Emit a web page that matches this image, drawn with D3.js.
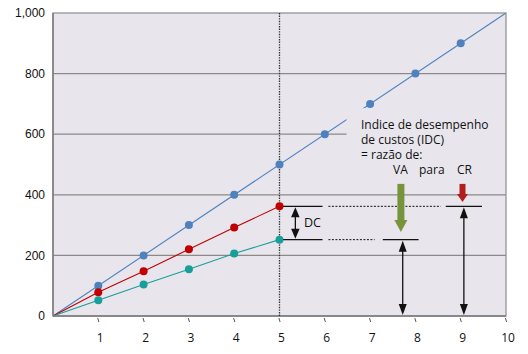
<!DOCTYPE html>
<html>
<head>
<meta charset="utf-8">
<script src="https://cdn.jsdelivr.net/npm/d3@7"></script>
<style>
  body { margin: 0; background: #fff; }
  svg { display: block; }
</style>
</head>
<body>
<div id="chart"></div>
<script>
// data
var xTicks = [1, 2, 3, 4, 5, 6, 7, 8, 9, 10];
var yTicks = [0, 200, 400, 600, 800, 1000];
var periods = [1, 2, 3, 4, 5, 6, 7, 8, 9];
var pvValues = [100, 200, 300, 400, 500, 600, 700, 800, 900];   // blue
var acValues = [78, 148, 220, 292, 362];                          // red
var evValues = [52, 104, 154, 206, 252];                          // teal
var statusDate = 5;
var noteLines = ["Indice de desempenho", "de custos (IDC)", "= razão de:"];

var width = 528, height = 354;
var x = d3.scaleLinear().domain([0, 10]).range([53, 506]);
var y = d3.scaleLinear().domain([0, 1000]).range([316, 13]);

var blue = "#4f81bd", red = "#c00000", teal = "#1a9e9a", bg = "#e8e6ec", grid = "#8a8a8a";

var svg = d3.select("#chart").append("svg")
  .attr("width", width)
  .attr("height", height);

// plot background
svg.append("rect")
  .attr("x", x(0)).attr("y", y(1000))
  .attr("width", x(10) - x(0)).attr("height", y(0) - y(1000))
  .attr("fill", bg);

// grid
svg.selectAll(".grid")
  .data(yTicks.filter(function(d) { return d > 0 && d < 1000; }))
  .enter().append("line")
  .attr("x1", x(0)).attr("x2", x(10))
  .attr("y1", function(d) { return y(d); })
  .attr("y2", function(d) { return y(d); })
  .attr("stroke", grid).attr("stroke-width", 1.2);

// series lines (all start at origin)
function series(vals) {
  return [[0, 0]].concat(vals.map(function(v, i) { return [periods[i], v]; }));
}
var line = d3.line().x(function(d) { return x(d[0]); }).y(function(d) { return y(d[1]); });

svg.append("path").datum([[0, 0], [10, 1000]])
  .attr("d", line).attr("fill", "none").attr("stroke", blue).attr("stroke-width", 1.1);
svg.append("path").datum(series(acValues))
  .attr("d", line).attr("fill", "none").attr("stroke", red).attr("stroke-width", 1.1);
svg.append("path").datum(series(evValues))
  .attr("d", line).attr("fill", "none").attr("stroke", teal).attr("stroke-width", 1.1);

// text box covering grid and blue line
svg.append("rect")
  .attr("x", x(6.48)).attr("y", y(686))
  .attr("width", x(10) - x(6.48)).attr("height", y(430) - y(686))
  .attr("fill", bg);

// frame
svg.append("rect")
  .attr("x", x(0)).attr("y", y(1000))
  .attr("width", x(10) - x(0)).attr("height", y(0) - y(1000))
  .attr("fill", "none").attr("stroke", "#8c8c8c").attr("stroke-width", 1.2);
svg.append("line")
  .attr("x1", x(0)).attr("x2", x(0)).attr("y1", y(1000)).attr("y2", y(0))
  .attr("stroke", "#7a7a7a").attr("stroke-width", 1.4);
svg.append("line")
  .attr("x1", x(0)).attr("x2", x(10)).attr("y1", y(0)).attr("y2", y(0))
  .attr("stroke", "#7a7a7a").attr("stroke-width", 1.4);

// status date dotted line
svg.append("line")
  .attr("x1", x(statusDate)).attr("x2", x(statusDate))
  .attr("y1", y(1000)).attr("y2", y(0))
  .attr("stroke", "#333").attr("stroke-width", 1.3)
  .attr("stroke-dasharray", "1.4,1.2");

// points
function dots(vals, color) {
  svg.append("g").selectAll("circle")
    .data(vals).enter().append("circle")
    .attr("cx", function(d, i) { return x(periods[i]); })
    .attr("cy", function(d) { return y(d); })
    .attr("r", 4)
    .attr("fill", color);
}
dots(pvValues, blue);
dots(acValues, red);
dots(evValues, teal);

// axes labels
svg.selectAll(".ylab").data(yTicks).enter().append("text")
  .attr("x", 45).attr("y", function(d) { return y(d); })
  .attr("dy", "0.35em")
  .attr("text-anchor", "end")
  .attr("font-family", "Liberation Sans, Arial, sans-serif")
  .attr("font-size", 12)
  .attr("fill", "#111")
  .text(d3.format(","));

svg.selectAll(".xtick").data(xTicks).enter().append("line")
  .attr("x1", function(d) { return x(d) - 0.6; })
  .attr("x2", function(d) { return x(d) + 0.6; })
  .attr("y1", y(0) + 2).attr("y2", y(0) + 6)
  .attr("stroke", "#555").attr("stroke-width", 1);

svg.selectAll(".xlab").data(xTicks).enter().append("text")
  .attr("x", function(d) { return x(d) + 2; })
  .attr("y", 342)
  .attr("text-anchor", "middle")
  .attr("font-family", "Open Sans, sans-serif")
  .attr("font-size", 12)
  .attr("fill", "#111")
  .text(function(d) { return d; });

// level lines for DC / VA / CR
var acAt = acValues[acValues.length - 1], evAt = evValues[evValues.length - 1];
function hline(x1, x2, v, dashed) {
  svg.append("line")
    .attr("x1", x(x1)).attr("x2", x(x2)).attr("y1", y(v)).attr("y2", y(v))
    .attr("stroke", "#111").attr("stroke-width", dashed ? 1 : 1.2)
    .attr("stroke-dasharray", dashed ? "2,1.5" : null);
}
hline(5.08, 5.95, acAt, false);
hline(6.08, 8.56, acAt, true);
hline(8.67, 9.47, acAt, false);
hline(5.08, 5.95, evAt, false);
hline(6.08, 7.1, evAt, true);
hline(7.28, 8.07, evAt, false);

function head(px, py, dir, w, h, color) {
  // dir: 1 = pointing down, -1 = pointing up; (px,py) is the tip
  svg.append("path")
    .attr("d", "M" + px + "," + py + "L" + (px - w / 2) + "," + (py - dir * h) +
      "L" + (px + w / 2) + "," + (py - dir * h) + "Z")
    .attr("fill", color);
}
function dblArrow(xv, v1, v2, w, h) {
  var px = x(xv), top = y(v1), bot = y(v2);
  svg.append("line").attr("x1", px).attr("x2", px)
    .attr("y1", top + h - 1).attr("y2", bot - h + 1)
    .attr("stroke", "#111").attr("stroke-width", 1.3);
  head(px, top + 1, -1, w, h, "#111");
  head(px, bot - 1, 1, w, h, "#111");
}
dblArrow(5.35, acAt, evAt, 8.5, 10);
dblArrow(7.72, evAt, 0, 8, 11);
dblArrow(9.07, acAt, 0, 8, 11);

svg.append("text")
  .attr("x", 304).attr("y", y((acAt + evAt) / 2))
  .attr("dy", "0.35em")
  .attr("font-family", "Open Sans, sans-serif")
  .attr("font-size", 12.5).attr("fill", "#111")
  .text("DC");

// thick coloured arrows
function bigArrow(xv, vTop, vTip, shaft, hw, hh, color) {
  var px = x(xv), top = y(vTop), tip = y(vTip);
  svg.append("rect")
    .attr("x", px - shaft / 2).attr("y", top)
    .attr("width", shaft).attr("height", tip - top - hh + 0.5)
    .attr("fill", color);
  head(px, tip, 1, hw, hh, color);
}
bigArrow(7.68, 436, 277, 7, 13, 12, "#77933c");
bigArrow(9.04, 436, 376, 6, 11, 8, "#b01e1e");

// note text
var note = svg.append("g")
  .attr("font-family", "Open Sans, sans-serif")
  .attr("font-size", 12).attr("fill", "#111");
note.selectAll("text").data(noteLines).enter().append("text")
  .attr("x", 361)
  .attr("y", function(d, i) { return 129 + i * 15; })
  .text(function(d) { return d; });
note.append("text").attr("x", 393).attr("y", 174).text("VA");
note.append("text").attr("x", 419).attr("y", 174).text("para");
note.append("text").attr("x", 457).attr("y", 174).text("CR");
</script>
</body>
</html>
